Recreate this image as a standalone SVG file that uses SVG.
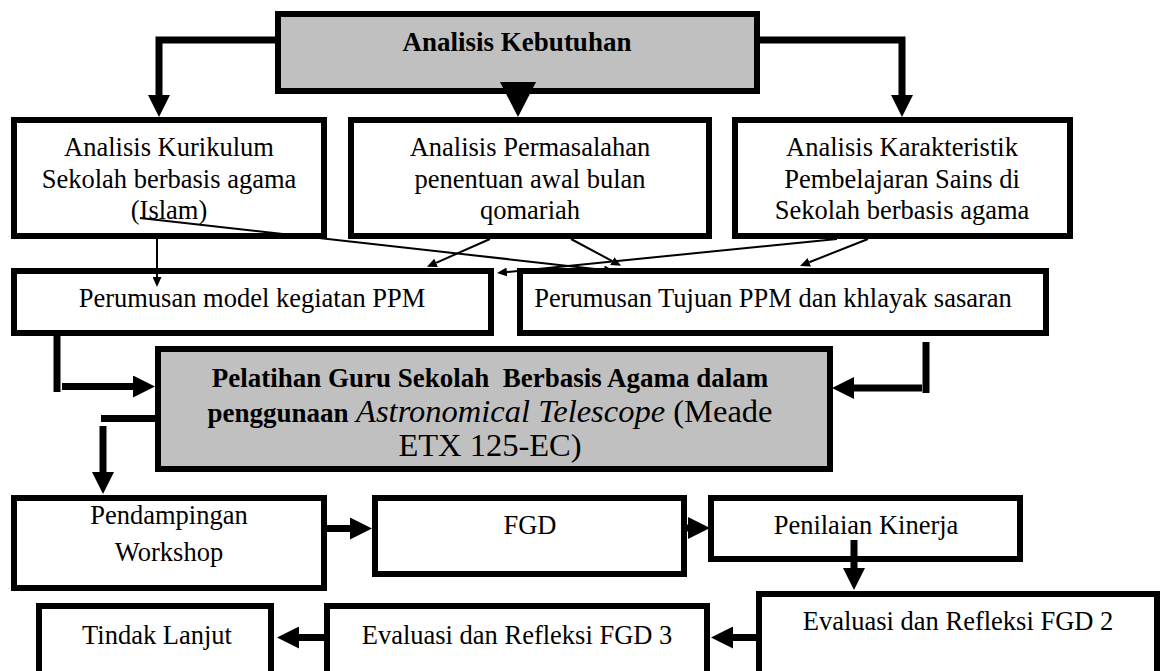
<svg xmlns="http://www.w3.org/2000/svg" width="1163" height="671" viewBox="0 0 1163 671">
<style>
  .box { fill: #ffffff; stroke: #000000; stroke-width: 6; }
  .gray { fill: #c0c0c0; stroke: #000000; stroke-width: 6; }
  text { font-family: "Liberation Serif", "Times New Roman", "DejaVu Serif", serif; font-size: 26.5px; fill: #000000; text-anchor: middle; }
  .bold { font-weight: bold; font-size: 27px; }
  .big { font-size: 32.5px; }
  .it { font-style: italic; }
  .thick { fill: none; stroke: #000000; stroke-width: 7; }
  .thin { fill: none; stroke: #000000; stroke-width: 2; }
</style>
<defs>
  <marker id="big" markerUnits="userSpaceOnUse" markerWidth="22" markerHeight="22" refX="0" refY="11" orient="auto">
    <path d="M0,0 L22,11 L0,22 Z" fill="#000000"/>
  </marker>
  <marker id="small" markerUnits="userSpaceOnUse" markerWidth="10" markerHeight="9" refX="0" refY="4.5" orient="auto">
    <path d="M0,0 L10,4.5 L0,9 Z" fill="#000000"/>
  </marker>
</defs>
<rect x="0" y="0" width="1163" height="671" fill="#ffffff"/>

<g id="analisis-kebutuhan">
  <rect class="gray" x="278" y="14" width="479" height="77"/>
  <text class="bold" x="517" y="51">Analisis Kebutuhan</text>
</g>

<g id="analisis-kurikulum">
  <rect class="box" x="14" y="120" width="310" height="116"/>
  <text x="169" y="156">Analisis Kurikulum</text>
  <text x="169" y="187.5">Sekolah berbasis agama</text>
  <text x="169" y="219">(Islam)</text>
</g>

<g id="analisis-permasalahan">
  <rect class="box" x="351" y="120" width="358" height="116"/>
  <text x="530" y="156">Analisis Permasalahan</text>
  <text x="530" y="187.5">penentuan awal bulan</text>
  <text x="530" y="219">qomariah</text>
</g>

<g id="analisis-karakteristik">
  <rect class="box" x="735" y="120" width="335" height="116"/>
  <text x="902" y="156">Analisis Karakteristik</text>
  <text x="902" y="187.5">Pembelajaran Sains di</text>
  <text x="902" y="219">Sekolah berbasis agama</text>
</g>

<g id="perumusan-model">
  <rect class="box" x="14" y="271" width="477" height="62"/>
  <text x="252" y="307">Perumusan model kegiatan PPM</text>
</g>

<g id="perumusan-tujuan">
  <rect class="box" x="520" y="271" width="526" height="62"/>
  <text x="773" y="307">Perumusan Tujuan PPM dan khlayak sasaran</text>
</g>

<g id="pelatihan">
  <rect class="gray" x="158" y="349" width="672" height="120"/>
  <text class="bold" x="490" y="387">Pelatihan Guru Sekolah&#160; Berbasis Agama dalam</text>
  <text x="490" y="422"><tspan font-weight="bold" font-size="27">penggunaan</tspan><tspan class="it big"> Astronomical Telescope</tspan><tspan class="big"> (Meade</tspan></text>
  <text class="big" x="490" y="456">ETX 125-EC)</text>
</g>

<g id="pendampingan">
  <rect class="box" x="14" y="498" width="310" height="90"/>
  <text x="169" y="524">Pendampingan</text>
  <text x="169" y="561">Workshop</text>
</g>

<g id="fgd">
  <rect class="box" x="375" y="498" width="309" height="76"/>
  <text x="530" y="534">FGD</text>
</g>

<g id="penilaian-kinerja">
  <rect class="box" x="711" y="498" width="309" height="61"/>
  <text x="866" y="534">Penilaian Kinerja</text>
</g>

<g id="evaluasi-fgd2">
  <rect class="box" x="759" y="594" width="398" height="100"/>
  <text x="958" y="630">Evaluasi dan Refleksi FGD 2</text>
</g>

<g id="evaluasi-fgd3">
  <rect class="box" x="327" y="606" width="380" height="100"/>
  <text x="517" y="644">Evaluasi dan Refleksi FGD 3</text>
</g>

<g id="tindak-lanjut">
  <rect class="box" x="39" y="606" width="232" height="100"/>
  <text x="157" y="644">Tindak Lanjut</text>
</g>

<g id="connectors">
  <path class="thick" d="M275,40 H159 V95" marker-end="url(#big)"/>
  <path class="thick" d="M760,40 H902 V95" marker-end="url(#big)"/>
  <polygon points="500,82 536,82 518,117" fill="#000000"/>

  <path class="thin" d="M157,239 V277" marker-end="url(#small)"/>
  <path class="thin" d="M140,218 L604.1,269.9" marker-end="url(#small)"/>
  <path class="thin" d="M490,239 L436.1,262.8" marker-end="url(#small)"/>
  <path class="thin" d="M571,239 L612.3,261.1" marker-end="url(#small)"/>
  <path class="thin" d="M837,239 L506.9,272.0" marker-end="url(#small)"/>
  <path class="thin" d="M868,239 L809.3,262.2" marker-end="url(#small)"/>

  <path class="thick" d="M57,335 V392"/>
  <path class="thick" d="M62,386.5 H133" marker-end="url(#big)"/>
  <path class="thick" d="M926,342 V393"/>
  <path class="thick" d="M922,388 H854" marker-end="url(#big)"/>
  <path class="thick" d="M101,418.5 H156"/>
  <path class="thick" d="M103,426 V472" marker-end="url(#big)"/>
  <path class="thick" d="M327,528.5 H350" marker-end="url(#big)"/>
  <path class="thick" d="M684,528 H688" marker-end="url(#big)"/>
  <path class="thick" d="M854,540 V568" marker-end="url(#big)"/>
  <path class="thick" d="M757,637.5 H733" marker-end="url(#big)"/>
  <path class="thick" d="M325,637.5 H299" marker-end="url(#big)"/>
</g>
</svg>
